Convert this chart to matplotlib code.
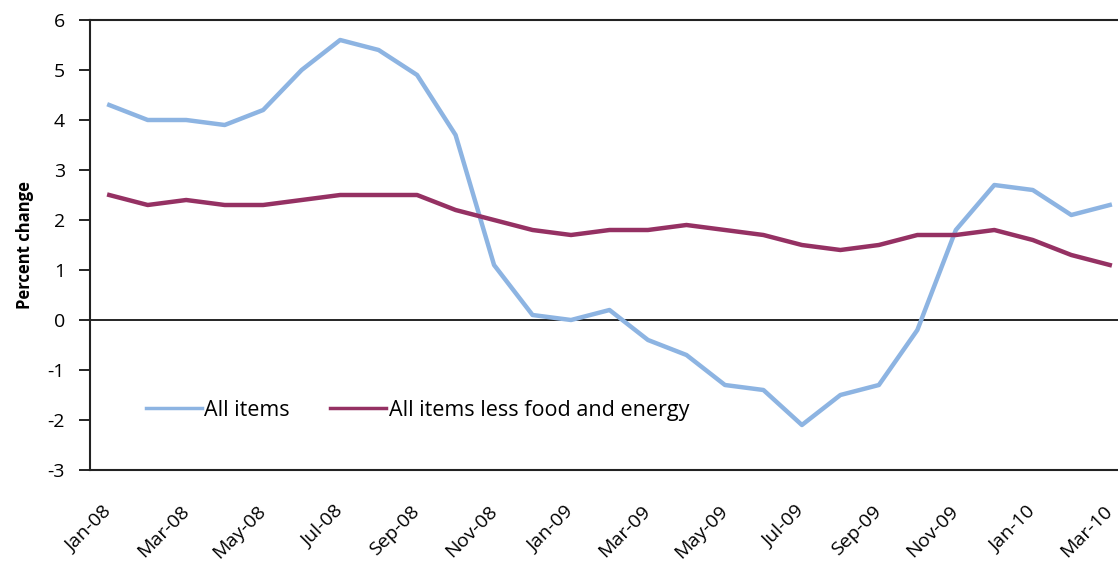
import numpy as np
import matplotlib
matplotlib.use("Agg")
import matplotlib.pyplot as plt

plt.rcParams['font.family'] = ['Open Sans', 'DejaVu Sans']
plt.rcParams['axes.unicode_minus'] = False

months = ["Jan-08", "Feb-08", "Mar-08", "Apr-08", "May-08", "Jun-08", "Jul-08",
          "Aug-08", "Sep-08", "Oct-08", "Nov-08", "Dec-08", "Jan-09", "Feb-09",
          "Mar-09", "Apr-09", "May-09", "Jun-09", "Jul-09", "Aug-09", "Sep-09",
          "Oct-09", "Nov-09", "Dec-09", "Jan-10", "Feb-10", "Mar-10"]
all_items = [4.3, 4.0, 4.0, 3.9, 4.2, 5.0, 5.6, 5.4, 4.9, 3.7, 1.1, 0.1, 0.0, 0.2,
             -0.4, -0.7, -1.3, -1.4, -2.1, -1.5, -1.3, -0.2, 1.8, 2.7, 2.6, 2.1, 2.3]
core = [2.5, 2.3, 2.4, 2.3, 2.3, 2.4, 2.5, 2.5, 2.5, 2.2, 2.0, 1.8, 1.7, 1.8,
        1.8, 1.9, 1.8, 1.7, 1.5, 1.4, 1.5, 1.7, 1.7, 1.8, 1.6, 1.3, 1.1]

x = np.arange(len(months))

fig = plt.figure(figsize=(11.18, 5.73), dpi=100)
# plot area runs slightly past the right edge, like the cropped original
ax = fig.add_axes([90 / 1118, 1 - 470 / 573, 1039 / 1118, 450 / 573])

l1, = ax.plot(x, all_items, color='#8db4e2', lw=3.2, solid_joinstyle='round')
l2, = ax.plot(x, core, color='#953163', lw=3.2, solid_joinstyle='round')
ax.axhline(0, color='black', lw=1.2, zorder=1)

ax.set_xlim(-0.5, len(months) - 0.5)
ax.set_ylim(-3, 6)
ax.set_yticks(range(-3, 7))
ax.set_xticks(x[::2])
ax.set_xticklabels(months[::2], rotation=45, ha='right', va='center',
                   rotation_mode='anchor')
ax.tick_params(axis='x', length=0, pad=28, labelsize=14)
ax.tick_params(axis='y', length=8, width=1.2, direction='out', pad=10, labelsize=14)

for s in ['left', 'bottom', 'top']:
    ax.spines[s].set_linewidth(1.5)
    ax.spines[s].set_color('#222222')
ax.spines['right'].set_visible(False)

ax.set_ylabel("Percent change", fontweight='bold', fontsize=12, labelpad=10)

leg = ax.legend([l1, l2], ["All items", "All items less food and energy"],
                loc='center left', bbox_to_anchor=(0.035, 0.133), ncol=2,
                frameon=False, fontsize=15.5, handlelength=2.6,
                handletextpad=0.1, columnspacing=1.9)
for ln in leg.get_lines():
    ln.set_linewidth(2.5)

fig.savefig("out.png", dpi=100)
